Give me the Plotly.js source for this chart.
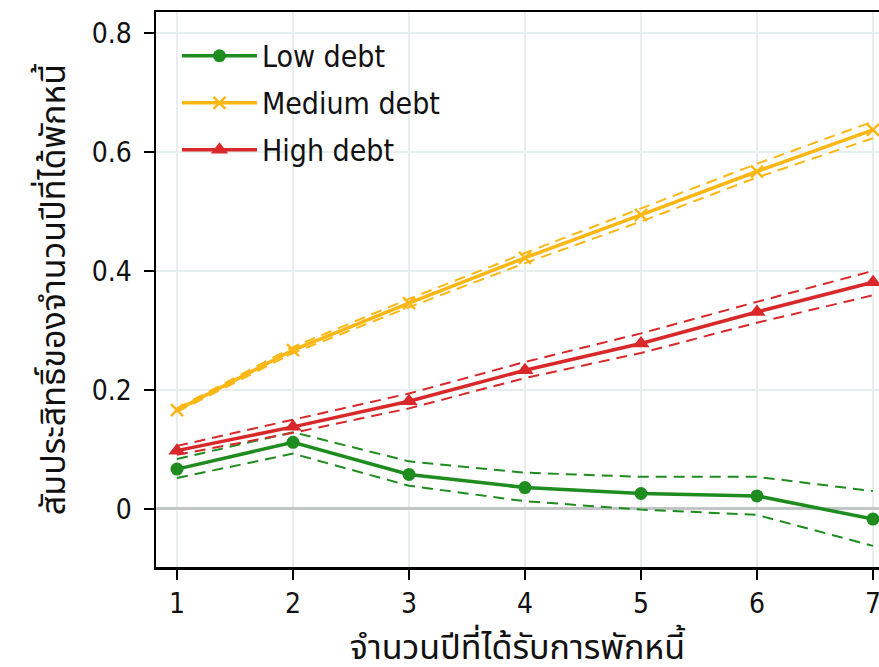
<!DOCTYPE html>
<html>
<head>
<meta charset="utf-8">
<script src="https://cdn.plot.ly/plotly-3.0.1.min.js"></script>
<style>
  html, body { margin: 0; padding: 0; background: #ffffff; }
  #chart { width: 879px; height: 667px; }
</style>
</head>
<body>
<div id="chart"></div>
<script>
// Years of debt moratorium received
const years = [1, 2, 3, 4, 5, 6, 7];

// Estimated coefficients with confidence bounds, by debt level
const lowDebt      = [0.067, 0.112, 0.058, 0.036, 0.026, 0.022, -0.017];
const lowDebtUpper = [0.084, 0.129, 0.080, 0.061, 0.054, 0.054, 0.030];
const lowDebtLower = [0.052, 0.093, 0.039, 0.013, -0.001, -0.010, -0.062];

const medDebt      = [0.166, 0.267, 0.346, 0.422, 0.494, 0.567, 0.637];
const medDebtUpper = [0.169, 0.272, 0.353, 0.430, 0.505, 0.580, 0.651];
const medDebtLower = [0.163, 0.262, 0.339, 0.413, 0.483, 0.557, 0.623];

const highDebt      = [0.098, 0.138, 0.181, 0.233, 0.278, 0.331, 0.381];
const highDebtUpper = [0.106, 0.150, 0.194, 0.247, 0.295, 0.348, 0.400];
const highDebtLower = [0.091, 0.128, 0.169, 0.220, 0.262, 0.313, 0.359];

const seriesNames = ['Low debt', 'Medium debt', 'High debt'];
const xTitle = 'จำนวนปีที่ได้รับการพักหนี้';
const yTitle = 'สัมประสิทธิ์ของจำนวนปีที่ได้พักหนี้';

const GREEN = '#1e8c1e';
const GOLD = '#fdb714';
const RED = '#d8282a';
const FONT = '"DejaVu Sans Condensed", "Noto Sans Thai", sans-serif';

function band(y, color, group) {
  return {
    x: years, y: y, type: 'scatter', mode: 'lines',
    line: { color: color, width: 2, dash: '11px,7px' },
    legendgroup: group, showlegend: false, hoverinfo: 'skip'
  };
}

const traces = [
  band(lowDebtUpper, GREEN, 'low'), band(lowDebtLower, GREEN, 'low'),
  band(medDebtUpper, GOLD, 'med'), band(medDebtLower, GOLD, 'med'),
  band(highDebtUpper, RED, 'high'), band(highDebtLower, RED, 'high'),
  {
    x: years, y: lowDebt, name: seriesNames[0], legendgroup: 'low',
    type: 'scatter', mode: 'lines+markers',
    line: { color: GREEN, width: 3.5 },
    marker: { symbol: 'circle', size: 13, color: GREEN }
  },
  {
    x: years, y: medDebt, name: seriesNames[1], legendgroup: 'med',
    type: 'scatter', mode: 'lines+markers',
    line: { color: GOLD, width: 3.5 },
    marker: { symbol: 'x-thin', size: 12, color: GOLD, line: { color: GOLD, width: 2.5 } }
  },
  {
    x: years, y: highDebt, name: seriesNames[2], legendgroup: 'high',
    type: 'scatter', mode: 'lines+markers',
    line: { color: RED, width: 3.5 },
    marker: { symbol: 'triangle-up', size: 15, color: RED }
  }
];

const layout = {
  width: 879, height: 667,
  margin: { l: 156, r: 0, t: 12, b: 100 },
  paper_bgcolor: '#ffffff',
  plot_bgcolor: '#ffffff',
  font: { family: FONT, color: '#111111', size: 24 },
  showlegend: true,
  legend: {
    x: 0.029, y: 0.968, xanchor: 'left', yanchor: 'top',
    bgcolor: 'rgba(255,255,255,0)',
    font: { family: FONT, size: 30, color: '#111111' },
    itemwidth: 75,
    tracegroupgap: 5
  },
  xaxis: {
    range: [0.819, 7.052],
    tickvals: years,
    ticktext: years.map(String),
    ticklabeloverflow: 'allow',
    showline: true, linecolor: '#000000', linewidth: 2.5, mirror: true,
    ticks: 'outside', ticklen: 10, tickwidth: 1.5, tickcolor: '#000000',
    showgrid: true, gridcolor: '#e6eef0', gridwidth: 2.5,
    zeroline: false,
    tickfont: { family: FONT, size: 28 },
    title: { text: xTitle, font: { family: FONT, size: 34 }, standoff: 16 }
  },
  yaxis: {
    range: [-0.0975, 0.835],
    tickvals: [0, 0.2, 0.4, 0.6, 0.8],
    ticktext: ['0', '0.2', '0.4', '0.6', '0.8'],
    ticklabelstandoff: 6,
    showline: true, linecolor: '#000000', linewidth: 2.5, mirror: true,
    ticks: 'outside', ticklen: 10, tickwidth: 1.5, tickcolor: '#000000',
    showgrid: true, gridcolor: '#e6eef0', gridwidth: 2.5,
    zeroline: true, zerolinecolor: '#c2c6c6', zerolinewidth: 3,
    tickfont: { family: FONT, size: 28 },
    title: { text: yTitle, font: { family: FONT, size: 34 }, standoff: 16 }
  }
};

Plotly.newPlot('chart', traces, layout, { displayModeBar: false, staticPlot: true });
</script>
</body>
</html>
